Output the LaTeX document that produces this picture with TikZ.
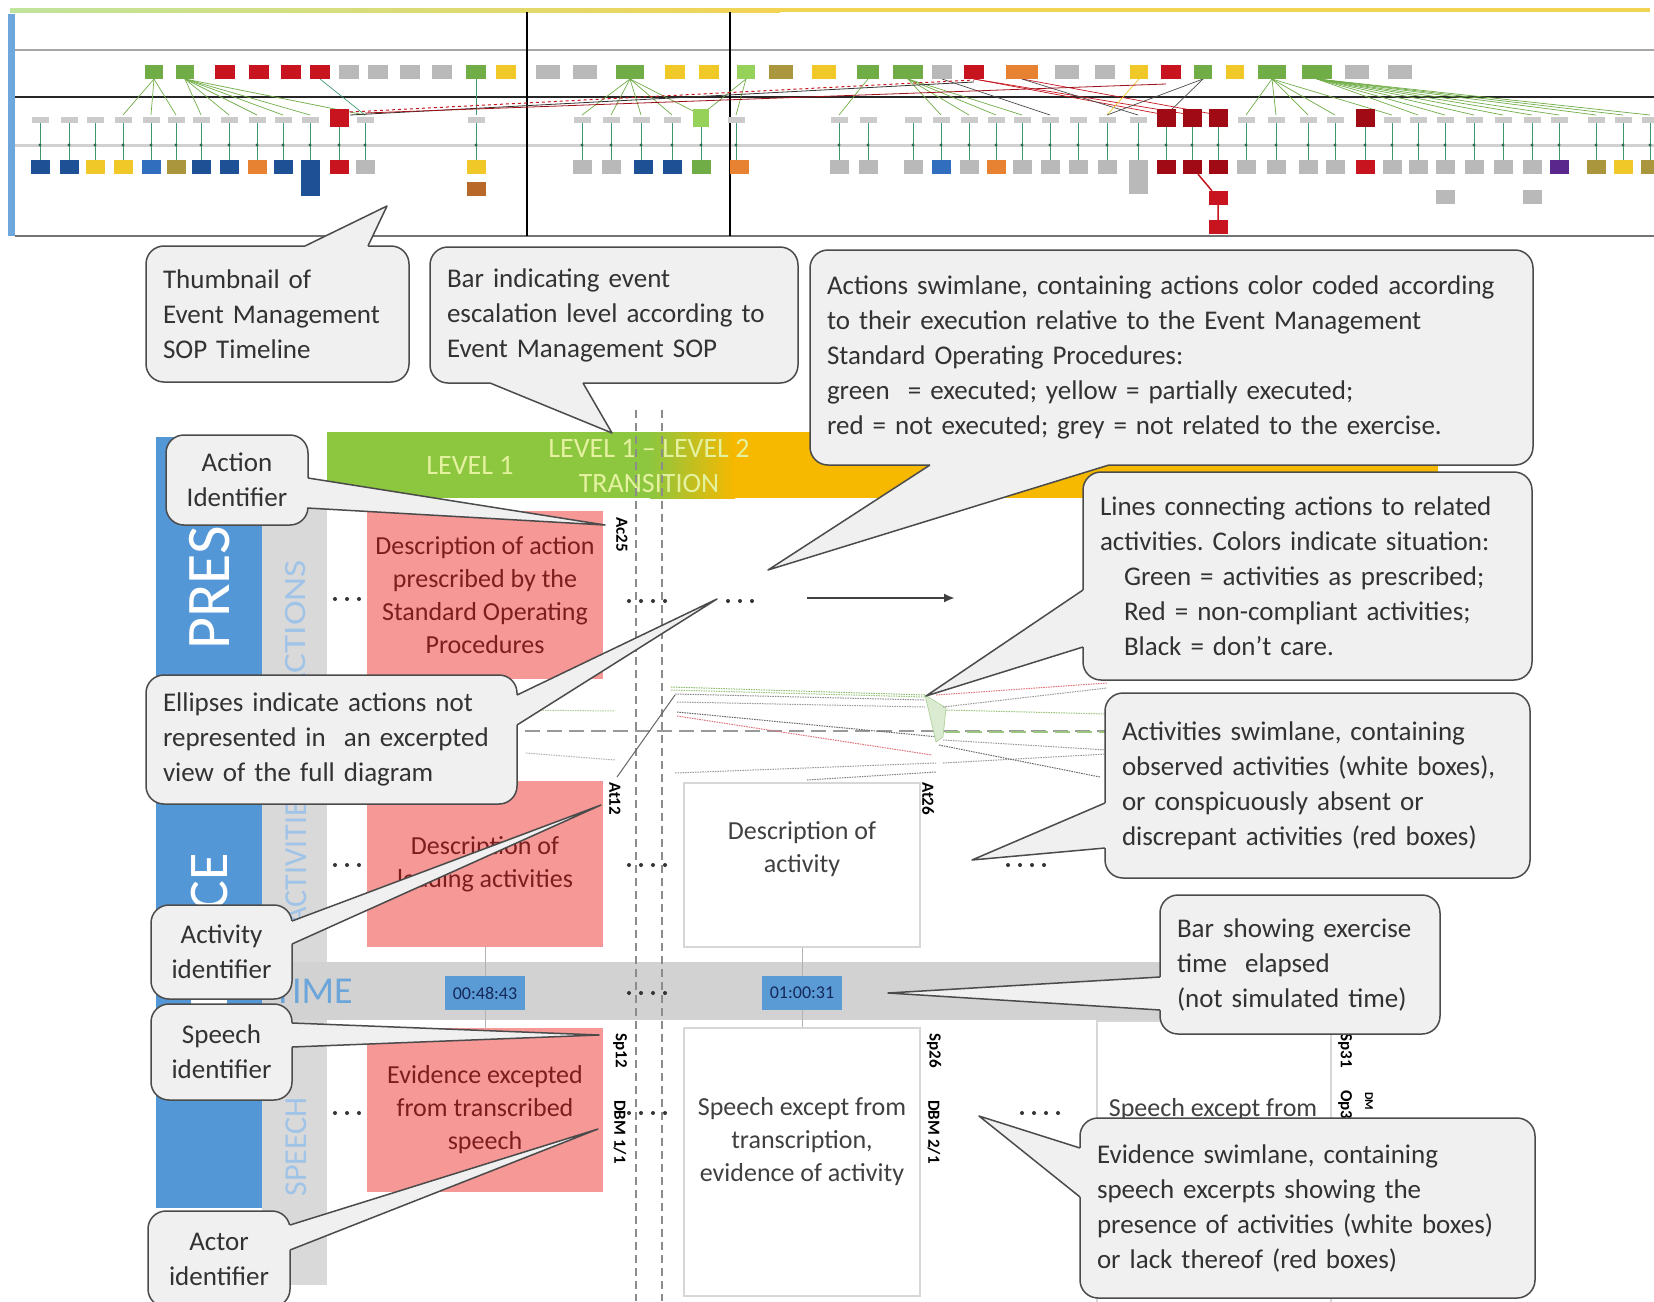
\documentclass[tikz,border=0pt]{standalone}
\usepackage{fontspec}
\setmainfont{Carlito}
\frenchspacing
\usetikzlibrary{calc,arrows.meta}
\definecolor{cfill}{RGB}{240,240,240}
\definecolor{cline}{RGB}{75,75,75}
\definecolor{ctext}{RGB}{50,50,50}
\definecolor{pinkbg}{RGB}{245,152,150}
\definecolor{pinktext}{RGB}{125,30,30}
\definecolor{lanegray}{RGB}{217,217,217}
\definecolor{timegray}{RGB}{210,210,210}
\definecolor{presblue}{RGB}{84,151,214}
\definecolor{lanetext}{RGB}{160,195,232}
\definecolor{lvgreen}{RGB}{141,198,63}
\definecolor{lvorange}{RGB}{247,184,0}
\definecolor{lvtext}{RGB}{228,242,160}
\definecolor{timeblue}{RGB}{91,155,213}
\definecolor{timetext}{RGB}{20,40,90}
\definecolor{boxborder}{RGB}{215,215,215}
\definecolor{wtext}{RGB}{64,64,64}
\definecolor{tgreen}{RGB}{112,173,71}
\definecolor{tlgreen}{RGB}{150,210,90}
\definecolor{tred}{RGB}{200,20,30}
\definecolor{tdred}{RGB}{160,10,20}
\definecolor{tgray}{RGB}{185,185,185}
\definecolor{tyellow}{RGB}{240,200,40}
\definecolor{tblue}{RGB}{30,80,150}
\definecolor{tmblue}{RGB}{50,110,190}
\definecolor{torange}{RGB}{230,130,50}
\definecolor{tolive}{RGB}{170,150,60}
\definecolor{tpurple}{RGB}{90,40,140}
\definecolor{tline}{RGB}{60,150,110}
\tikzset{
  callbox/.style={draw=cline, fill=cfill, line width=1.5pt, rounded corners=18pt,
    inner xsep=17pt, inner ysep=0pt, align=left, text=ctext,
    font=\fontsize{27}{35}\selectfont},
  callboxc/.style={callbox, align=center},
  pinkbox/.style={fill=pinkbg, draw=none, text=pinktext, align=center, inner sep=0pt,
    font=\fontsize{26}{33}\selectfont},
  whitebox/.style={draw=boxborder, line width=1.5pt, fill=white, inner sep=0pt},
  wtxt/.style={text=wtext, align=center, inner sep=0pt, font=\fontsize{26}{33}\selectfont},
  ident/.style={rotate=-90, anchor=west, inner sep=0pt, font=\bfseries\fontsize{17}{17}\selectfont},
  lanelbl/.style={rotate=90, text=lanetext, inner sep=0pt, font=\fontsize{32}{32}\selectfont},
  tact/.style={minimum height=14pt, inner sep=0pt, draw=none},
  tsm/.style={fill=tgray!75, minimum width=17pt, minimum height=6pt, inner sep=0pt},
  tsp/.style={minimum width=19pt, minimum height=14pt, inner sep=0pt},
  tlink/.style={line width=0.7pt},
  thinlink/.style={line width=1pt, dash pattern=on 1.5pt off 1pt},
  timebox/.style={fill=timeblue, minimum width=80pt, minimum height=34pt, inner sep=0pt,
    text=timetext, font=\fontsize{18}{18}\selectfont},
}
\newcommand{\wedgecall}[4]{%
  \fill[cfill] (#1) -- (#3) -- (#2) -- ($(#2)+#4$) -- ($(#1)+#4$) -- cycle;
  \draw[cline, line width=1.5pt, line join=round] (#1) -- (#3) -- (#2);}
\newcommand{\dotrow}[3]{\foreach \k in {1,...,#3}{\fill[black!80] ($(#1)+(\k*12-12,0)$) circle (2pt);}}
\begin{document}
\begin{tikzpicture}[x=1pt,y=-1pt]
\useasboundingbox (0,0) rectangle (1654,1301);
\fill[white] (0,0) rectangle (1654,1301);

%% ---------------- thumbnail ----------------
\shade[left color=tlgreen!60, right color=tyellow!80] (10,8) rectangle (780,12);
\fill[tyellow!80] (780,8) rectangle (1650,12);
\fill[presblue!85] (8,14) rectangle (15,236);
\draw[black!35, line width=2pt] (15,50) -- (1654,50);
\draw[black!85, line width=1.5pt] (15,97) -- (1654,97);
\draw[black!18, line width=3pt] (15,145) -- (1654,145);
\draw[black!55, line width=2pt] (15,236) -- (1654,236);
\draw[black, line width=1.2pt] (527,12) -- (527,236);
\draw[black, line width=1.2pt] (730,12) -- (730,236);

% activity row connectors and speech links
\foreach \x in {40,69,95,123,151,176,201,229,257,283,310,339,365,476,582,611,641,672,701,736,839,868,913,941,969,996,1022,1050,1078,1107,1138,1166,1192,1218,1246,1276,1308,1335,1365,1392,1418,1445,1474,1503,1532,1559,1596,1623,1650}{
  \draw[tline, line width=0.7pt] (\x,123) -- (\x,160);
  \fill[tline!70!black] (\x,145) circle (1.6pt);
}
% action -> activity links
\foreach \a/\b/\c in {154/123/tgreen,154/151/tgreen,154/176/tgreen,185/201/tgreen,185/229/tgreen,185/257/tgreen,185/283/tgreen,185/310/tgreen,185/365/tgreen,320/365/tline,476/476/tline,630/582/tgreen,630/611/tgreen,630/641/tgreen,630/672/tgreen,630/701/tgreen,746/701/tgreen,746/736/tgreen,868/839/tgreen,908/941/tgreen,908/969/tgreen,908/996/tgreen,908/1022/tgreen,942/1050/black!70,974/1166/tred,974/1192/tred,1022/1218/tred,1022/1138/black!70,1139/1107/tyellow,1203/1107/black!70,1203/1166/black!70,1272/1246/tgreen,1272/1276/tgreen,1272/1308/tgreen,1272/1335/tgreen,1272/1392/tgreen,1317/1418/tgreen,1317/1445/tgreen,1317/1474/tgreen,1317/1503/tgreen,1317/1532/tgreen,1317/1559/tgreen,1317/1596/tgreen,1317/1623/tgreen,1317/1650/tgreen}{
  \draw[\c, tlink] (\a,79) -- (\b,115);
}
\draw[tred, line width=1pt, dashed] (350,112) -- (974,80);
\draw[black!80, line width=0.8pt] (350,115) -- (974,82);
\draw[tred!80!black, line width=0.8pt] (365,113) -- (1166,84);

% action row
\foreach \x/\c/\w [count=\i] in {154/tgreen/18,185/tgreen/18,225/tred/20,259/tred/20,291/tred/20,320/tred/20,349/tgray/20,378/tgray/20,410/tgray/20,442/tgray/20,476/tgreen/20,506/tyellow/20,548/tgray/24,585/tgray/24,630/tgreen/28,675/tyellow/20,709/tyellow/20,746/tlgreen/18,781/tolive/24,824/tyellow/24,868/tgreen/22,908/tgreen/30,942/tgray/20,974/tred/20,1022/torange/32,1067/tgray/24,1105/tgray/20,1139/tyellow/18,1171/tred/20,1203/tgreen/18,1235/tyellow/18,1272/tgreen/28,1317/tgreen/30,1357/tgray/24,1400/tgray/24}{
  \node[tact, fill=\c, minimum width=\w pt] (ta\i) at (\x,72) {};
}
% activity row small boxes
\foreach \x [count=\i] in {40,69,95,123,151,176,201,229,257,283,310,365,476,582,611,641,672,736,839,868,913,941,969,996,1022,1050,1078,1107,1138,1246,1276,1308,1335,1392,1418,1445,1474,1503,1532,1559,1596,1623,1650}{
  \node[tsm] (tb\i) at (\x,120) {};
}
\foreach \x/\c [count=\i] in {339/tred,1166/tdred,1192/tdred,1218/tdred,1365/tdred}{
  \node[tsp, fill=\c, minimum height=18pt] (tr\i) at (\x,118) {};
}
\node[tsp, fill=tlgreen, minimum width=16pt, minimum height=18pt] (tg1) at (701,118) {};
% speech row
\foreach \x/\c [count=\i] in {40/tblue,69/tblue,95/tyellow,123/tyellow,151/tmblue,176/tolive,201/tblue,229/tblue,257/torange,283/tblue,310/tblue,339/tred,365/tgray,476/tyellow,582/tgray,611/tgray,643/tblue,672/tblue,701/tgreen,739/torange,839/tgray,868/tgray,913/tgray,941/tmblue,969/tgray,996/torange,1022/tgray,1050/tgray,1078/tgray,1107/tgray,1138/tgray,1166/tdred,1192/tdred,1218/tdred,1246/tgray,1276/tgray,1308/tgray,1335/tgray,1365/tred,1392/tgray,1418/tgray,1445/tgray,1474/tgray,1503/tgray,1532/tgray,1559/tpurple,1596/tolive,1623/tyellow,1650/tolive}{
  \node[tsp, fill=\c] (ts\i) at (\x,167) {};
}
\node[tsp, fill=tblue, minimum height=26pt] (tsx1) at (310,183) {};
\node[tsp, fill=torange!80!black] (tsx2) at (476,189) {};
\node[tsp, fill=tgray, minimum height=24pt] (tsx3) at (1138,182) {};
\node[tsp, fill=tred] (tsx4) at (1218,198) {};
\node[tsp, fill=tred] (tsx5) at (1218,227) {};
\node[tsp, fill=tgray] (tsx6) at (1445,197) {};
\node[tsp, fill=tgray] (tsx7) at (1532,197) {};
\draw[tred, line width=1.5pt] (ts33) -- (tsx4) -- (tsx5);

%% ---------------- level bar ----------------
\fill[lvgreen] (327,432) rectangle (650,498);
\shade[left color=lvgreen, right color=lvorange] (650,432) rectangle (735,498);
\fill[lvorange] (735,432) rectangle (1438,498);
\node[text=lvtext, font=\fontsize{28}{28}\selectfont, inner sep=0pt] (lv1) at (470,465) {LEVEL 1};
\node[text=lvtext, font=\fontsize{28}{35}\selectfont, align=center, inner sep=0pt] (lv12) at (649,466) {LEVEL 1 -- LEVEL 2\\TRANSITION};

%% ---------------- lanes ----------------
\fill[presblue] (156,437) rectangle (262,1208);
\fill[lanegray] (262,509) rectangle (327,1285);
\begin{scope}
  \clip (156,437) rectangle (262,1208);
  \node[rotate=90, anchor=west, text=white, inner sep=0pt, font=\fontsize{62}{62}\selectfont] (presc) at (210,650) {PRESCRIBED};
  \node[rotate=90, anchor=east, text=white, inner sep=0pt, font=\fontsize{56}{56}\selectfont] (evid) at (210,853) {EVIDENCE};
\end{scope}
\begin{scope}
  \clip (262,509) rectangle (327,1285);
  \node[lanelbl, anchor=east, font=\fontsize{31}{31}\selectfont] (lact) at (296,560) {\scalebox{1.2}[1]{ACTIONS}};
  \node[lanelbl, anchor=west] (lacv) at (296,926) {ACTIVITIES};
  \node[lanelbl] (lsp) at (296,1147) {SPEECH};
\end{scope}
% time bar
\fill[timegray] (262,962) rectangle (1200,1020);
\node[anchor=base east, text=timeblue!90, inner sep=0pt, font=\fontsize{38}{38}\selectfont] (ltime) at (353,1003) {TIME};

% dashed verticals
\draw[black!45, line width=1.5pt, dash pattern=on 8pt off 5pt] (636,410) -- (636,1301);
\draw[black!45, line width=1.5pt, dash pattern=on 8pt off 5pt] (662,410) -- (662,1301);

% separator between actions and activities + link lines
\draw[black!40, line width=2.2pt, dash pattern=on 15pt off 7pt] (327,731) -- (1105,731);
\draw[tgreen!70, line width=2pt, dash pattern=on 15pt off 7pt] (945,732) -- (1105,732);
\draw[tgreen!60, thinlink] (330,708) -- (615,711);
\draw[black!30, thinlink] (526,753) -- (615,760);
\draw[tgreen!80, thinlink] (671,687) -- (925,695);
\draw[tgreen!70, thinlink] (671,690) -- (925,697);
\draw[black!45, thinlink] (675,694) -- (925,700);
\draw[black!40, thinlink] (677,702) -- (925,707);
\draw[black!60, thinlink] (677,712) -- (939,737);
\draw[tred!60, thinlink] (677,716) -- (932,755);
\draw[black!40, thinlink] (675,773) -- (936,763);
\draw[black!50, thinlink] (807,780) -- (936,772);
\fill[tgreen!25, draw=tgreen!60, line width=0.6pt] (925,695) -- (946,708) -- (943,737) -- (936,742) -- cycle;
\draw[tred!60, thinlink] (936,695) -- (1107,683);
\draw[black!40, thinlink] (943,707) -- (1107,688);
\draw[tgreen!70, thinlink] (946,710) -- (1107,714);
\draw[black!40, thinlink] (943,740) -- (1107,750);
\draw[black!40, thinlink] (943,763) -- (1107,754);
\draw[black!60, thinlink] (939,745) -- (1100,777);
\draw[black!60, line width=1pt] (617,777) -- (675,695);

% boxes
\node[pinkbox, minimum width=236pt, minimum height=168pt] (acbox) at (485,595) {Description of action\\prescribed by the\\Standard Operating\\Procedures};
\node[pinkbox, minimum width=236pt, minimum height=166pt] (atbox) at (485,864) {Description of\\leading activities};
\node[pinkbox, minimum width=236pt, minimum height=164pt] (spbox) at (485,1110) {Evidence excepted\\from transcribed\\speech};
\node[whitebox, minimum width=236pt, minimum height=164pt] (atbox2) at (802,865) {};
\node[wtxt] (attx2) at (802,849) {Description of\\activity};
\node[whitebox, minimum width=236pt, minimum height=268pt] (spbox2) at (802,1162) {};
\node[wtxt] (sptx2) at (802,1142) {Speech except from\\transcription,\\evidence of activity};
\node[whitebox, minimum width=234pt, minimum height=300pt] (spbox3) at (1214,1171) {};
\node[wtxt, anchor=base] (sptx3) at (1213,1116) {Speech except from};

% time vertical lines and boxes
\draw[black!30, line width=1pt] (atbox.south) -- (spbox.north);
\draw[black!30, line width=1pt] (atbox2.south) -- (spbox2.north);
\node[timebox] (tm1) at (485,993) {00:48:43};
\node[timebox] (tm2) at (802,993) {01:00:31};

% identifiers
\node[ident] (iac25) at (622,517) {Ac25};
\node[ident] (iat12) at (615,782) {At12};
\node[ident] (iat26) at (928,782) {At26};
\node[ident] (isp12) at (620,1033) {Sp12};
\node[ident] (idbm1) at (620,1100) {DBM 1/1};
\node[ident] (isp26) at (934,1033) {Sp26};
\node[ident] (idbm2) at (934,1100) {DBM 2/1};
\node[ident] (isp31) at (1345,1033) {Sp31};
\node[ident] (iop3) at (1345,1090) {Op3};
\node[ident, font=\bfseries\fontsize{12}{12}\selectfont] (idm) at (1369,1092) {DM};

% dots
\coordinate (d1) at (335,599); \dotrow{d1}{}{3}
\coordinate (d2) at (629,601); \dotrow{d2}{}{4}
\coordinate (d3) at (728,601); \dotrow{d3}{}{3}
\coordinate (d4) at (335,865); \dotrow{d4}{}{3}
\coordinate (d5) at (629,865); \dotrow{d5}{}{4}
\coordinate (d6) at (1008,865); \dotrow{d6}{}{4}
\coordinate (d7) at (629,993); \dotrow{d7}{}{4}
\coordinate (d8) at (335,1113); \dotrow{d8}{}{3}
\coordinate (d9) at (629,1113); \dotrow{d9}{}{4}
\coordinate (d10) at (1022,1113); \dotrow{d10}{}{4}

% arrow
\coordinate (arA) at (807,598);
\coordinate (arB) at (955,598);
\draw[black!75, line width=2.2pt, -{Latex[length=11pt,width=9pt]}] (arA) -- (arB);

%% ---------------- callouts ----------------
\node[callbox, text width=229pt, minimum height=136pt] (c1) at (277.5,314) {Thumbnail of\\Event Management\\SOP Timeline};
\coordinate (c1a) at (305,246); \coordinate (c1b) at (368,246); \coordinate (c1t) at (387,206);
\wedgecall{c1a}{c1b}{c1t}{(0,4)}

\node[callbox, text width=334pt, minimum height=136pt] (c2) at (614,315) {Bar indicating event\\escalation level according to\\Event Management SOP};
\coordinate (c2a) at (490,383); \coordinate (c2b) at (583,383); \coordinate (c2t) at (612,433);
\wedgecall{c2a}{c2b}{c2t}{(0,-4)}

\node[callbox, text width=689pt, minimum height=215pt] (c3) at (1171.5,357.5) {Actions swimlane, containing actions color coded according\\to their execution relative to the Event Management\\Standard Operating Procedures:\\green\ \ = executed; yellow = partially executed;\\red = not executed; grey = not related to the exercise.};
\coordinate (c3a) at (930,465); \coordinate (c3b) at (1109,465); \coordinate (c3t) at (768,570);
\wedgecall{c3a}{c3b}{c3t}{(0,-4)}

\node[callbox, text width=415pt, minimum height=208pt] (c4) at (1307.5,576) {Lines connecting actions to related\\activities. Colors indicate situation:\\\hspace*{24pt}Green = activities as prescribed;\\\hspace*{24pt}Red = non-compliant activities;\\\hspace*{24pt}Black = don't care.};
\coordinate (c4a) at (1083,590); \coordinate (c4b) at (1083,647); \coordinate (c4t) at (926,696);
\wedgecall{c4a}{c4b}{c4t}{(4,0)}

\node[callbox, text width=391pt, minimum height=185pt] (c5) at (1317.5,785.5) {Activities swimlane, containing\\observed activities (white boxes),\\or conspicuously absent or\\discrepant activities (red boxes)};
\coordinate (c5a) at (1105,803); \coordinate (c5b) at (1105,848); \coordinate (c5t) at (972,860);
\wedgecall{c5a}{c5b}{c5t}{(4,0)}

\node[callbox, text width=246pt, minimum height=139pt] (c6) at (1300,964.5) {Bar showing exercise\\time\ \ elapsed\\(not simulated time)};
\coordinate (c6a) at (1160,977); \coordinate (c6b) at (1160,1010); \coordinate (c6t) at (888,993);
\wedgecall{c6a}{c6b}{c6t}{(4,0)}

\node[callbox, text width=421pt, minimum height=180pt] (c7) at (1307.5,1208) {Evidence swimlane, containing\\speech excerpts showing the\\presence of activities (white boxes)\\or lack thereof (red boxes)};
\coordinate (c7a) at (1080,1148); \coordinate (c7b) at (1080,1197); \coordinate (c7t) at (979,1116);
\wedgecall{c7a}{c7b}{c7t}{(4,0)}

\node[callboxc, text width=108pt, minimum height=90pt] (c8) at (237,480) {Action\\Identifier};
\coordinate (c8a) at (308,478); \coordinate (c8b) at (307,508); \coordinate (c8t) at (605,525);
\wedgecall{c8a}{c8b}{c8t}{(-4,0)}

\node[callbox, text width=337pt, minimum height=129pt] (c9) at (331.5,739.5) {Ellipses indicate actions not\\represented in\ \ an excerpted\\view of the full diagram};
\coordinate (c9a) at (517,695); \coordinate (c9b) at (517,725); \coordinate (c9t) at (717,599);
\wedgecall{c9a}{c9b}{c9t}{(-4,0)}

\node[callboxc, text width=107pt, minimum height=94pt] (c10) at (221.5,952) {Activity\\identifier};
\coordinate (c10a) at (292,921); \coordinate (c10b) at (292,944); \coordinate (c10t) at (601,805);
\wedgecall{c10a}{c10b}{c10t}{(-4,0)}

\node[callboxc, text width=107pt, minimum height=96pt] (c11) at (221.5,1052) {Speech\\identifier};
\coordinate (c11a) at (292,1023); \coordinate (c11b) at (292,1047); \coordinate (c11t) at (599,1035);
\wedgecall{c11a}{c11b}{c11t}{(-4,0)}

\node[callboxc, text width=108pt, minimum height=96pt] (c12) at (219,1259) {Actor\\identifier};
\coordinate (c12a) at (290,1225); \coordinate (c12b) at (290,1250); \coordinate (c12t) at (598,1129);
\wedgecall{c12a}{c12b}{c12t}{(-4,0)}
\end{tikzpicture}
\end{document}
